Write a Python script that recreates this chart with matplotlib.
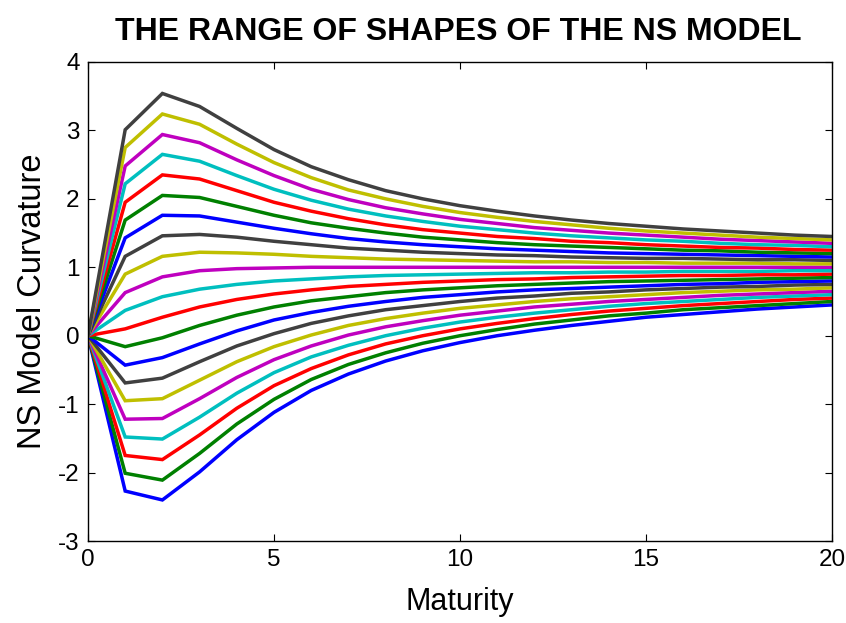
import matplotlib
matplotlib.use('AGG')
import matplotlib.pyplot as plt

# maturities (years) at which each curve is sampled
maturity = list(range(21))

# NS curves for curvature factor -10 ... +10 (level 1, slope -1, lambda 1)
c_m10 = [0, -2.27, -2.40, -1.99, -1.52, -1.12, -0.80, -0.56, -0.37, -0.22, -0.10, 0.00, 0.08, 0.15, 0.21, 0.27, 0.31, 0.35, 0.39, 0.42, 0.45]
c_m9 = [0, -2.01, -2.11, -1.72, -1.29, -0.93, -0.64, -0.42, -0.25, -0.11, 0.00, 0.09, 0.17, 0.23, 0.29, 0.33, 0.38, 0.41, 0.44, 0.47, 0.50]
c_m8 = [0, -1.75, -1.81, -1.45, -1.06, -0.73, -0.48, -0.28, -0.12, 0.00, 0.10, 0.18, 0.25, 0.31, 0.36, 0.40, 0.44, 0.47, 0.50, 0.53, 0.55]
c_m7 = [0, -1.48, -1.51, -1.19, -0.84, -0.54, -0.31, -0.14, 0.00, 0.11, 0.20, 0.27, 0.33, 0.38, 0.43, 0.47, 0.50, 0.53, 0.56, 0.58, 0.60]
c_m6 = [0, -1.22, -1.21, -0.92, -0.61, -0.35, -0.15, 0.01, 0.13, 0.22, 0.30, 0.36, 0.42, 0.46, 0.50, 0.53, 0.56, 0.59, 0.61, 0.63, 0.65]
c_m5 = [0, -0.95, -0.92, -0.65, -0.38, -0.16, 0.01, 0.15, 0.25, 0.33, 0.40, 0.45, 0.50, 0.54, 0.57, 0.60, 0.63, 0.65, 0.67, 0.68, 0.70]
c_m4 = [0, -0.69, -0.62, -0.38, -0.15, 0.03, 0.18, 0.29, 0.38, 0.44, 0.50, 0.55, 0.58, 0.62, 0.64, 0.67, 0.69, 0.71, 0.72, 0.74, 0.75]
c_m3 = [0, -0.43, -0.32, -0.12, 0.07, 0.23, 0.34, 0.43, 0.50, 0.56, 0.60, 0.64, 0.67, 0.69, 0.71, 0.73, 0.75, 0.76, 0.78, 0.79, 0.80]
c_m2 = [0, -0.16, -0.03, 0.15, 0.30, 0.42, 0.51, 0.57, 0.63, 0.67, 0.70, 0.73, 0.75, 0.77, 0.79, 0.80, 0.81, 0.82, 0.83, 0.84, 0.85]
c_m1 = [0, 0.10, 0.27, 0.42, 0.53, 0.61, 0.67, 0.72, 0.75, 0.78, 0.80, 0.82, 0.83, 0.85, 0.86, 0.87, 0.88, 0.88, 0.89, 0.89, 0.90]
c_0 = [0, 0.37, 0.57, 0.68, 0.75, 0.80, 0.83, 0.86, 0.88, 0.89, 0.90, 0.91, 0.92, 0.92, 0.93, 0.93, 0.94, 0.94, 0.94, 0.95, 0.95]
c_p1 = [0, 0.63, 0.86, 0.95, 0.98, 0.99, 1.00, 1.00, 1.00, 1.00, 1.00, 1.00, 1.00, 1.00, 1.00, 1.00, 1.00, 1.00, 1.00, 1.00, 1.00]
c_p2 = [0, 0.90, 1.16, 1.22, 1.21, 1.19, 1.16, 1.14, 1.12, 1.11, 1.10, 1.09, 1.08, 1.08, 1.07, 1.07, 1.06, 1.06, 1.06, 1.05, 1.05]
c_p3 = [0, 1.16, 1.46, 1.48, 1.44, 1.38, 1.33, 1.28, 1.25, 1.22, 1.20, 1.18, 1.17, 1.15, 1.14, 1.13, 1.13, 1.12, 1.11, 1.11, 1.10]
c_p4 = [0, 1.43, 1.76, 1.75, 1.66, 1.57, 1.49, 1.42, 1.37, 1.33, 1.30, 1.27, 1.25, 1.23, 1.21, 1.20, 1.19, 1.18, 1.17, 1.16, 1.15]
c_p5 = [0, 1.69, 2.05, 2.02, 1.89, 1.76, 1.65, 1.57, 1.50, 1.44, 1.40, 1.36, 1.33, 1.31, 1.29, 1.27, 1.25, 1.24, 1.22, 1.21, 1.20]
c_p6 = [0, 1.95, 2.35, 2.29, 2.12, 1.95, 1.82, 1.71, 1.62, 1.55, 1.50, 1.45, 1.42, 1.38, 1.36, 1.33, 1.31, 1.29, 1.28, 1.26, 1.25]
c_p7 = [0, 2.22, 2.65, 2.55, 2.34, 2.14, 1.98, 1.85, 1.75, 1.67, 1.60, 1.55, 1.50, 1.46, 1.43, 1.40, 1.38, 1.35, 1.33, 1.32, 1.30]
c_p8 = [0, 2.48, 2.94, 2.82, 2.57, 2.34, 2.14, 1.99, 1.87, 1.78, 1.70, 1.64, 1.58, 1.54, 1.50, 1.47, 1.44, 1.41, 1.39, 1.37, 1.35]
c_p9 = [0, 2.75, 3.24, 3.09, 2.80, 2.53, 2.31, 2.13, 2.00, 1.89, 1.80, 1.73, 1.67, 1.62, 1.57, 1.53, 1.50, 1.47, 1.44, 1.42, 1.40]
c_p10 = [0, 3.01, 3.54, 3.35, 3.03, 2.72, 2.47, 2.28, 2.12, 2.00, 1.90, 1.82, 1.75, 1.69, 1.64, 1.60, 1.56, 1.53, 1.50, 1.47, 1.45]

curves = [c_m10, c_m9, c_m8, c_m7, c_m6, c_m5, c_m4, c_m3, c_m2, c_m1, c_0,
          c_p1, c_p2, c_p3, c_p4, c_p5, c_p6, c_p7, c_p8, c_p9, c_p10]

# classic colour order b, g, r, c, m, y, k
color_order = ['#0000ff', '#008000', '#ff0000', '#00bfbf', '#bf00bf', '#bfbf00', '#404040']

x_ticks = [0, 5, 10, 15, 20]
y_ticks = [-3, -2, -1, 0, 1, 2, 3, 4]

plt.rcParams['font.family'] = ['Liberation Sans', 'DejaVu Sans']
plt.rcParams['axes.unicode_minus'] = False

fig = plt.figure(figsize=(8.46, 6.23), dpi=100)
ax = fig.add_axes([0.104, 0.1316, 0.8795, 0.7689])

for i, ys in enumerate(curves):
    ax.plot(maturity, ys, color=color_order[i % len(color_order)], lw=2.5,
            solid_joinstyle='miter')

ax.set_xlim(0, 20)
ax.set_ylim(-3, 4)
ax.set_xticks(x_ticks)
ax.set_yticks(y_ticks)
ax.tick_params(direction='in', length=5, width=0.8, labelsize=17.5,
               top=True, right=True, pad=6)
for sp in ax.spines.values():
    sp.set_linewidth(1.0)

ax.set_xlabel('Maturity', fontsize=22)
ax.set_ylabel('NS Model Curvature', fontsize=23.5)
ax.xaxis.set_label_coords(0.5, -0.095)
ax.yaxis.set_label_coords(-0.054, 0.5)

fig.text(0.5414, 0.9358, 'THE RANGE OF SHAPES OF THE NS MODEL', ha='center',
         va='baseline', fontsize=23, fontweight='bold')

fig.savefig('out.png', dpi=100)
plt.close(fig)
